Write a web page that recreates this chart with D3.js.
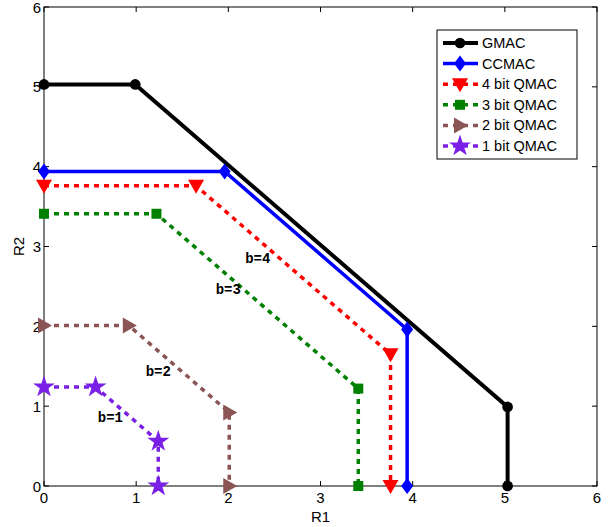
<!DOCTYPE html>
<html>
<head>
<meta charset="utf-8">
<script src="https://cdn.jsdelivr.net/npm/d3@7"></script>
<style>
  body { margin: 0; background: #fff; }
  svg { display: block; }
</style>
</head>
<body>
<div class="draw-section"></div>
<script>
// region points [R1, R2] per scheme
const gmac = [[0, 5.03], [0.99, 5.03], [5.03, 0.99], [5.03, 0]];
const ccmac = [[0, 3.94], [1.96, 3.94], [3.94, 1.96], [3.94, 0]];
const qmac4 = [[0, 3.76], [1.65, 3.76], [3.76, 1.65], [3.76, 0]];
const qmac3 = [[0, 3.41], [1.22, 3.41], [3.41, 1.22], [3.41, 0]];
const qmac2 = [[0, 2.01], [0.92, 2.01], [2.01, 0.92], [2.01, 0]];
const qmac1 = [[0, 1.24], [0.56, 1.24], [1.24, 0.56], [1.24, 0]];

const seriesNames = ['GMAC', 'CCMAC', '4 bit QMAC', '3 bit QMAC', '2 bit QMAC', '1 bit QMAC'];
const xTicks = [0, 1, 2, 3, 4, 5, 6];
const yTicks = [0, 1, 2, 3, 4, 5, 6];

// b=... annotations [label, R1, R2]
const bLabels = [['b=4', 2.32, 2.79], ['b=3', 2.0, 2.4], ['b=2', 1.24, 1.38], ['b=1', 0.72, 0.8]];

const margin = { top: 7, right: 14, bottom: 41, left: 44 };
const W = 611, H = 527;
const width = W - margin.left - margin.right;
const height = H - margin.top - margin.bottom;

const x = d3.scaleLinear().domain([0, 6]).range([0, width]);
const y = d3.scaleLinear().domain([0, 6]).range([height, 0]);

const svg = d3.select('.draw-section').append('svg')
  .attr('width', W).attr('height', H);
const g = svg.append('g')
  .attr('transform', `translate(${margin.left},${margin.top})`);

const styles = [
  { data: gmac, color: '#000000', width: 4, dash: null, shape: 'circle' },
  { data: ccmac, color: '#0000ff', width: 3.5, dash: null, shape: 'diamond' },
  { data: qmac4, color: '#ff0000', width: 3.5, dash: '5,5', shape: 'tridown' },
  { data: qmac3, color: '#008000', width: 3.5, dash: '5,5', shape: 'square' },
  { data: qmac2, color: '#8c5555', width: 3.5, dash: '5,5', shape: 'triright' },
  { data: qmac1, color: '#7a1fe6', width: 3.5, dash: '5,5', shape: 'star' }
];

const markerPath = function(shape) {
  if (shape === 'circle') return d3.symbol(d3.symbolCircle, 90)();
  if (shape === 'diamond') return 'M0,-8L6,0L0,8L-6,0Z';
  if (shape === 'tridown') return 'M-8,-6L8,-6L0,8Z';
  if (shape === 'square') return 'M-5,-5L5,-5L5,5L-5,5Z';
  if (shape === 'triright') return 'M-6,-8L8,0L-6,8Z';
  if (shape === 'star') return d3.symbol(d3.symbolStar, 150)();
};

// axes box and ticks
const axisColor = '#000';
g.append('rect').attr('x', 0).attr('y', 0).attr('width', width).attr('height', height)
  .attr('fill', 'none').attr('stroke', axisColor).attr('stroke-width', 1);

const tickLen = 5;
xTicks.forEach(t => {
  g.append('line').attr('x1', x(t)).attr('x2', x(t)).attr('y1', height).attr('y2', height - tickLen).attr('stroke', axisColor);
  g.append('line').attr('x1', x(t)).attr('x2', x(t)).attr('y1', 0).attr('y2', tickLen).attr('stroke', axisColor);
  g.append('text').attr('x', x(t)).attr('y', height + 17).attr('text-anchor', 'middle')
    .attr('font-family', 'Liberation Sans, Arial, sans-serif').attr('font-size', 15).text(t);
});
yTicks.forEach(t => {
  g.append('line').attr('y1', y(t)).attr('y2', y(t)).attr('x1', 0).attr('x2', tickLen).attr('stroke', axisColor);
  g.append('line').attr('y1', y(t)).attr('y2', y(t)).attr('x1', width).attr('x2', width - tickLen).attr('stroke', axisColor);
  g.append('text').attr('x', -3).attr('y', y(t) + 5.5).attr('text-anchor', 'end')
    .attr('font-family', 'Liberation Sans, Arial, sans-serif').attr('font-size', 15).text(t);
});

g.append('text').attr('x', width / 2).attr('y', height + 36).attr('text-anchor', 'middle')
  .attr('font-family', 'Liberation Sans, Arial, sans-serif').attr('font-size', 15).text('R1');
g.append('text').attr('transform', `translate(-20,${height / 2}) rotate(-90)`).attr('text-anchor', 'middle')
  .attr('font-family', 'Liberation Sans, Arial, sans-serif').attr('font-size', 15).text('R2');

// series lines
const line = d3.line().x(d => x(d[0])).y(d => y(d[1]));
styles.forEach(s => {
  g.append('path').attr('d', line(s.data)).attr('fill', 'none')
    .attr('stroke', s.color).attr('stroke-width', s.width)
    .attr('stroke-dasharray', s.dash);
});
styles.forEach(s => {
  g.selectAll(null).data(s.data).enter().append('path')
    .attr('d', markerPath(s.shape))
    .attr('transform', d => `translate(${x(d[0])},${y(d[1])})`)
    .attr('fill', s.color);
});

// b labels
g.selectAll('text.blabel').data(bLabels).enter().append('text')
  .attr('class', 'blabel')
  .attr('x', d => x(d[1])).attr('y', d => y(d[2]))
  .attr('text-anchor', 'middle')
  .attr('font-family', 'Liberation Mono, Courier New, monospace')
  .attr('font-weight', 'bold').attr('font-size', 14)
  .text(d => d[0]);

// legend
const lg = svg.append('g').attr('transform', 'translate(437,30)');
lg.append('rect').attr('width', 140).attr('height', 129)
  .attr('fill', '#fff').attr('stroke', '#000').attr('stroke-width', 1);
styles.forEach((s, i) => {
  const ly = 13 + i * 20.6;
  lg.append('line').attr('x1', 6).attr('x2', 41).attr('y1', ly).attr('y2', ly)
    .attr('stroke', s.color).attr('stroke-width', s.width).attr('stroke-dasharray', s.dash);
  lg.append('path').attr('d', markerPath(s.shape))
    .attr('transform', `translate(23,${ly})`).attr('fill', s.color);
  lg.append('text').attr('x', 45).attr('y', ly + 5)
    .attr('font-family', 'Liberation Sans, Arial, sans-serif').attr('font-size', 14.5)
    .text(seriesNames[i]);
});
</script>
</body>
</html>
